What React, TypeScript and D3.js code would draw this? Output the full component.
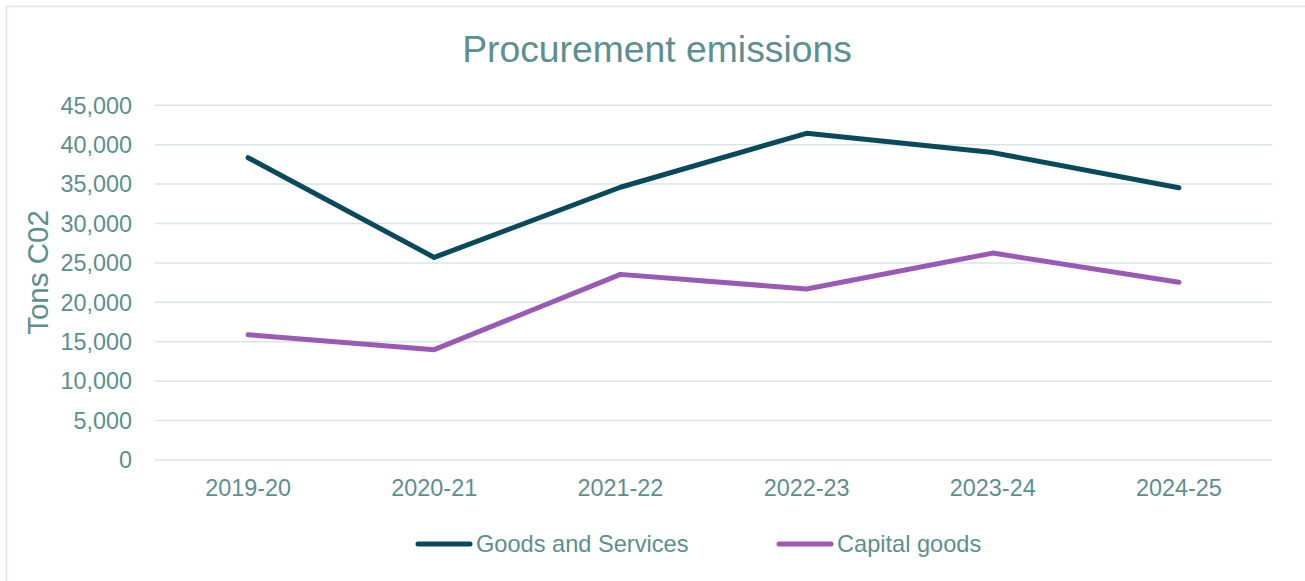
import React from "react";
import * as d3 from "d3";

const categories = ["2019-20", "2020-21", "2021-22", "2022-23", "2023-24", "2024-25"];
const goodsAndServices = [38350, 25700, 34600, 41450, 39000, 34550];
const capitalGoods = [15900, 14000, 23550, 21700, 26250, 22550];
const yTicks = [0, 5000, 10000, 15000, 20000, 25000, 30000, 35000, 40000, 45000];
const seriesNames = ["Goods and Services", "Capital goods"];
const seriesColors = ["#084A5C", "#9B59B6"];

const W = 1305;
const H = 581;
const TEXT = "#5C8F8F";
const GRID = "#D9E6E6";
const FONT = "'Liberation Sans', Arial, sans-serif";

export default function App() {
  const x = d3.scalePoint<string>().domain(categories).range([155, 1272]).padding(0.5);
  const y = d3.scaleLinear().domain([0, 45000]).range([460, 105.3]);
  const fmt = d3.format(",");
  const line = d3
    .line<number>()
    .x((_, i) => x(categories[i]) as number)
    .y((d) => y(d));
  const series = [goodsAndServices, capitalGoods];
  const legendX = [416, 777];

  return (
    <svg
      width={W}
      height={H}
      style={{ position: "absolute", left: 0, top: 0, background: "#fff" }}
      fontFamily={FONT}
    >
      <rect x={0} y={0} width={W} height={H} fill="#fff" />
      <rect x={6.5} y={6.5} width={1320} height={620} fill="none" stroke={GRID} strokeWidth={1.5} />
      <text x={657} y={62} textAnchor="middle" fontSize={37.3} fill={TEXT}>
        Procurement emissions
      </text>
      {yTicks.map((t) => (
        <g key={t}>
          <line x1={155} x2={1272} y1={y(t)} y2={y(t)} stroke={GRID} strokeWidth={1.5} />
          <text x={132} y={y(t) + 8.2} textAnchor="end" fontSize={23.4} fill={TEXT}>
            {fmt(t)}
          </text>
        </g>
      ))}
      {categories.map((c) => (
        <text key={c} x={x(c) as number} y={496} textAnchor="middle" fontSize={23.4} fill={TEXT}>
          {c}
        </text>
      ))}
      <text
        transform={`translate(48,272.5) rotate(-90)`}
        textAnchor="middle"
        fontSize={29.5}
        fill={TEXT}
      >
        Tons C02
      </text>
      {series.map((s, i) => (
        <path
          key={i}
          d={line(s) as string}
          fill="none"
          stroke={seriesColors[i]}
          strokeWidth={5}
          strokeLinecap="round"
          strokeLinejoin="round"
        />
      ))}
      {seriesNames.map((n, i) => (
        <g key={n}>
          <line
            x1={legendX[i] + 2}
            x2={legendX[i] + 54}
            y1={544}
            y2={544}
            stroke={seriesColors[i]}
            strokeWidth={5}
            strokeLinecap="round"
          />
          <text x={legendX[i] + 60} y={552.3} fontSize={23.6} fill={TEXT}>
            {n}
          </text>
        </g>
      ))}
    </svg>
  );
}
